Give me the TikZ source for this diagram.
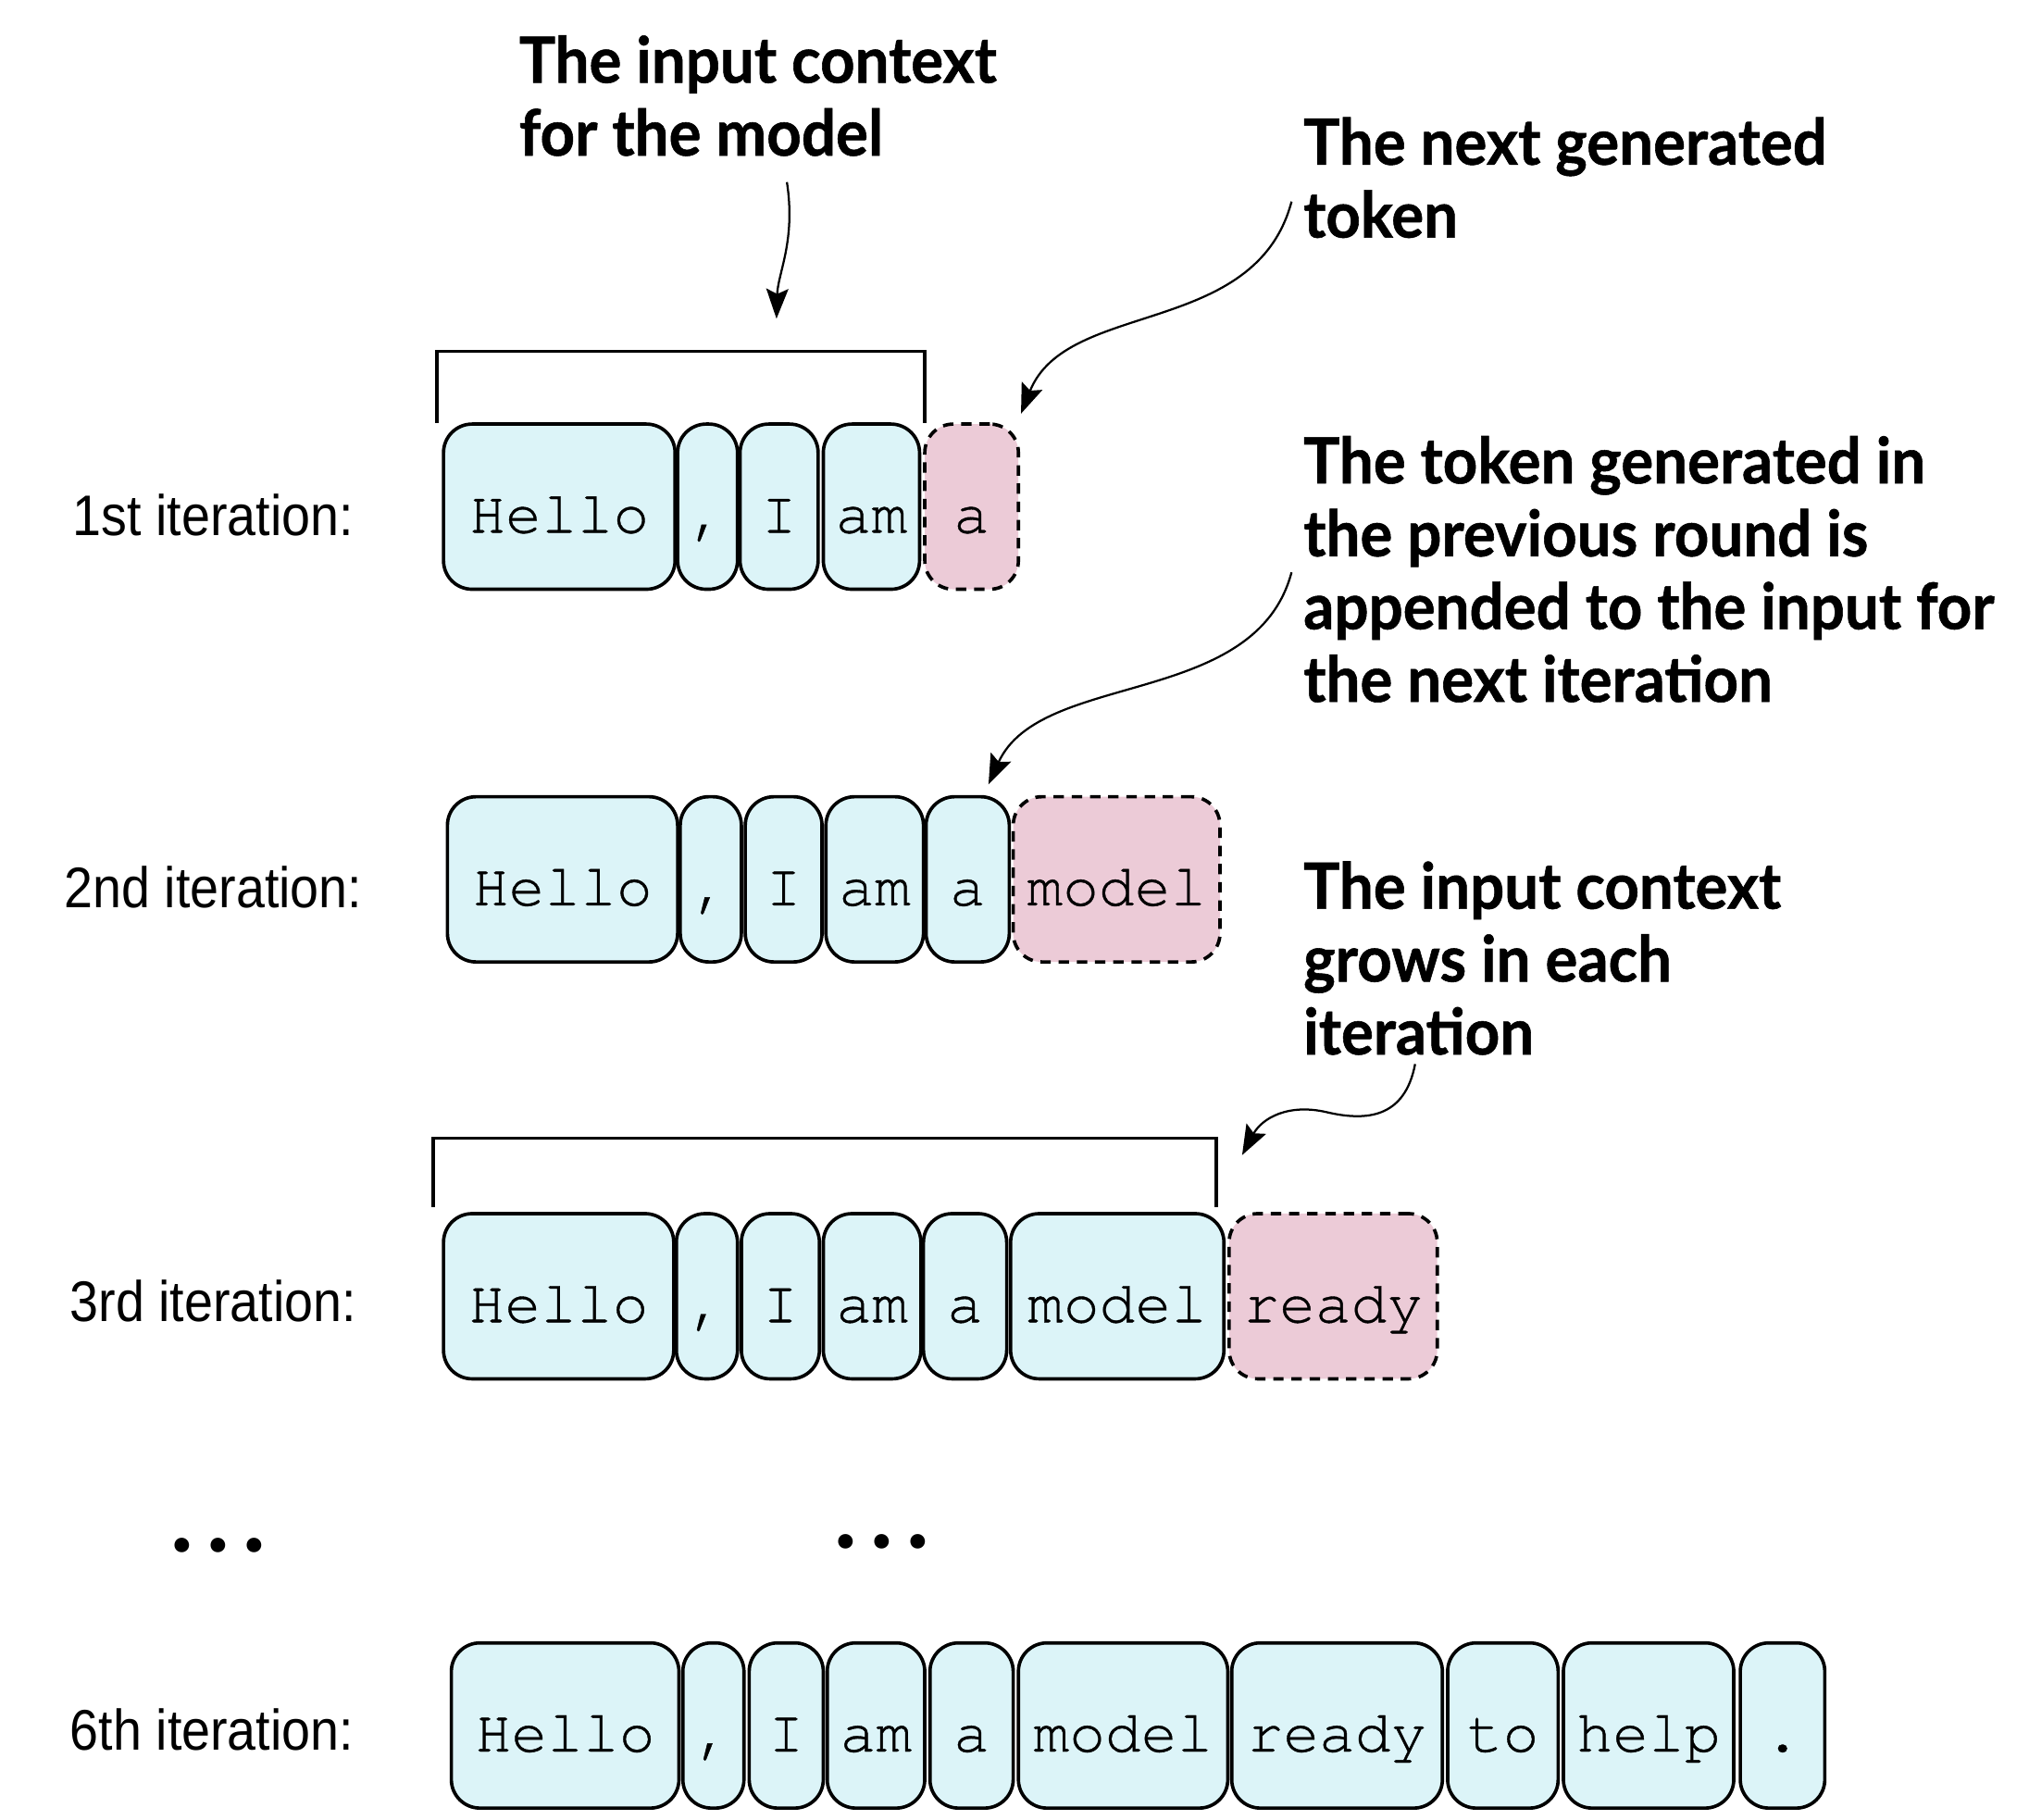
\documentclass[tikz,border=0pt]{standalone}
\usepackage{fontspec}
\setmainfont{Liberation Sans}[FakeStretch=0.9]
\newfontfamily\annfont{Lato}[FakeStretch=0.95,BoldFeatures={FakeBold=0.8}]
\newfontfamily\dotfont{Lato}[LetterSpace=14]
\newfontfamily\tokfont{texgyrecursor-regular.otf}[FakeBold=0.6]
\usetikzlibrary{arrows.meta}
\definecolor{tokblue}{RGB}{220,244,248}
\definecolor{tokpink}{RGB}{236,203,215}
\tikzset{
 tokbox/.style={draw=black, line width=2.6pt, fill=tokblue, rounded corners=22pt, inner sep=0pt,
   minimum height=127pt, text height=40pt, text depth=0pt, font=\tokfont\fontsize{46}{46}\selectfont},
 newtok/.style={tokbox, fill=tokpink, dash pattern=on 8pt off 6pt},
 itlabel/.style={font=\fontsize{44}{44}\selectfont, inner sep=0pt},
 annot/.style={font=\annfont\bfseries\fontsize{49}{56}\selectfont, align=left, anchor=north west, inner sep=0pt},
 dotsnode/.style={font=\dotfont\bfseries\fontsize{74}{74}\selectfont, inner sep=0pt, anchor=base},
 callout/.style={line width=1.6pt, -{Stealth[length=23pt,width=17pt,inset=4pt]}},
 bracket/.style={line width=2.5pt},
}
\begin{document}
\begin{tikzpicture}[x=1pt,y=-1pt]
\useasboundingbox (0,0) rectangle (1560,1399);

% annotations
\node[annot] (t1) at (399,27) {The input context\\for the model};
\node[annot] (t2) at (1002,90) {The next generated\\token};
\node[annot] (t3) at (1002,335) {The token generated in\\the previous round is\\appended to the input for\\the next iteration};
\node[annot] (t4) at (1002,662) {The input context\\grows in each\\iteration};

% iteration labels
\node[itlabel] (l1) at (164,396) {1st iteration:};
\node[itlabel] (l2) at (164,682) {2nd iteration:};
\node[itlabel] (l3) at (164,1000) {3rd iteration:};
\node[itlabel] (l6) at (163,1330) {6th iteration:};

% dots
\node[dotsnode] (d1) at (168,1193) {...};
\node[dotsnode] (d2) at (678,1190) {...};

% row 1
\node[tokbox, minimum width=178pt] (r1hello) at (430,389.5) {Hello};
\node[tokbox, minimum width=46pt] (r1comma) at (544,389.5) {,};
\node[tokbox, minimum width=60pt] (r1i) at (599,389.5) {I};
\node[tokbox, minimum width=74pt] (r1am) at (670,389.5) {am};
\node[newtok, minimum width=72pt] (r1a) at (747,389.5) {a};

% row 2
\node[tokbox, minimum width=177pt] (r2hello) at (432.5,676) {Hello};
\node[tokbox, minimum width=47pt] (r2comma) at (546.5,676) {,};
\node[tokbox, minimum width=59pt] (r2i) at (602.5,676) {I};
\node[tokbox, minimum width=75pt] (r2am) at (672.5,676) {am};
\node[tokbox, minimum width=64pt] (r2a) at (744,676) {a};
\node[newtok, minimum width=159pt] (r2model) at (858.5,676) {model};

% row 3
\node[tokbox, minimum width=177pt] (r3hello) at (429.5,996.5) {Hello};
\node[tokbox, minimum width=47pt] (r3comma) at (543.5,996.5) {,};
\node[tokbox, minimum width=60pt] (r3i) at (600,996.5) {I};
\node[tokbox, minimum width=75pt] (r3am) at (670.5,996.5) {am};
\node[tokbox, minimum width=64pt] (r3a) at (742,996.5) {a};
\node[tokbox, minimum width=164pt] (r3model) at (859,996.5) {model};
\node[newtok, minimum width=160pt] (r3ready) at (1025,996.5) {ready};

% row 6
\node[tokbox, minimum width=175pt] (r6hello) at (434.5,1326.5) {Hello};
\node[tokbox, minimum width=47pt] (r6comma) at (548.5,1326.5) {,};
\node[tokbox, minimum width=57pt] (r6i) at (604.5,1326.5) {I};
\node[tokbox, minimum width=75pt] (r6am) at (673.5,1326.5) {am};
\node[tokbox, minimum width=64pt] (r6a) at (747,1326.5) {a};
\node[tokbox, minimum width=161pt] (r6model) at (863.5,1326.5) {model};
\node[tokbox, minimum width=162pt] (r6ready) at (1028,1326.5) {ready};
\node[tokbox, minimum width=85pt] (r6to) at (1155.5,1326.5) {to};
\node[tokbox, minimum width=131pt] (r6help) at (1267.5,1326.5) {help};
\node[tokbox, minimum width=65pt] (r6dot) at (1370.5,1326.5) {.};

% brackets
\coordinate (b1l) at (336,325);
\coordinate (b1r) at (711,325);
\draw[bracket] (b1l) -- ++(0,-55) -| (b1r);
\coordinate (b3l) at (333,928);
\coordinate (b3r) at (935,928);
\draw[bracket] (b3l) -- ++(0,-53) -| (b3r);

% callout arrows
\coordinate (a1s) at (605,140);
\coordinate (a1e) at (597,245);
\draw[callout] (a1s) .. controls (612,185) and (598,210) .. (a1e);
\coordinate (a2s) at (993,155);
\coordinate (a2e) at (785,318);
\draw[callout] (a2s) .. controls (965,260) and (820,230) .. (a2e);
\coordinate (a3s) at (993,440);
\coordinate (a3e) at (760,603);
\draw[callout] (a3s) .. controls (965,545) and (800,515) .. (a3e);
\coordinate (a4s) at (1088,818);
\coordinate (a4m) at (1020,855);
\coordinate (a4e) at (955,888);
\draw[callout] (a4s) .. controls (1080,860) and (1050,862) .. (a4m) .. controls (990,848) and (970,860) .. (a4e);
\end{tikzpicture}
\end{document}
